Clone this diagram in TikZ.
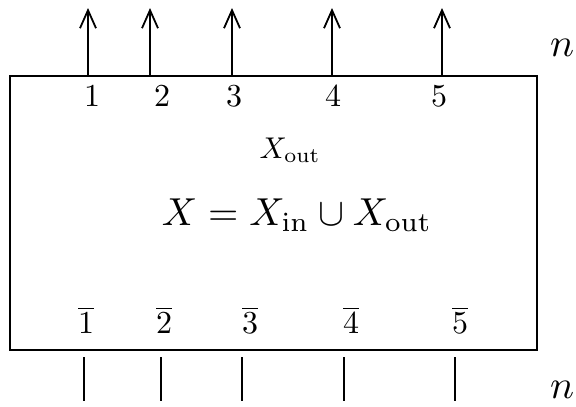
\documentclass[tikz,border=0pt]{standalone}
\usepackage{amsmath,amssymb}
\usepackage{graphicx}
\usepackage{tikz}
\usetikzlibrary{arrows.meta,positioning}

\begin{document}
\begin{tikzpicture}[
  x=1pt, y=-1pt,
  block/.style={draw, line width=1.8pt, minimum width=527pt, minimum height=274pt, inner sep=0pt},
  port/.style={inner sep=1pt},
  wire/.style={line width=1.8pt},
  outwire/.style={wire, -{Straight Barb[length=18pt,width=16pt]}}
]
\useasboundingbox (0,0) rectangle (576,407);
\node[block] (sys) at (273.5,213) {};
\node (xout) at (290,150) {\scalebox{3}{$X_{\mathrm{out}}$}};
\node (eq) at (297,215) {\scalebox{3.9}{$X = X_{\mathrm{in}} \cup X_{\mathrm{out}}$}};
\node (ntop) at (562,48) {\scalebox{4}{$n$}};
\node (nbot) at (562,390) {\scalebox{4}{$n$}};

% outgoing ports on top, incoming ports below
\foreach \i/\x/\lx/\bx/\blx in {1/88/92/84/86, 2/150/162/161/164, 3/232/234/242/250, 4/332/333/344/351, 5/442/439/455/460} {
  \coordinate (top\i) at (\x,76);
  \coordinate (tip\i) at (\x,8);
  \node[port] (lbl\i) at (\lx,96) {\scalebox{3.2}{\i}};
  \draw[outwire] (top\i) -- (tip\i);
  \node[port] (bar\i) at (\blx,320) {\scalebox{3.2}{$\overline{\i}$}};
  \coordinate (bot\i) at (\bx,357);
  \coordinate (end\i) at (\bx,401);
  \draw[wire] (bot\i) -- (end\i);
}
\end{tikzpicture}
\end{document}
